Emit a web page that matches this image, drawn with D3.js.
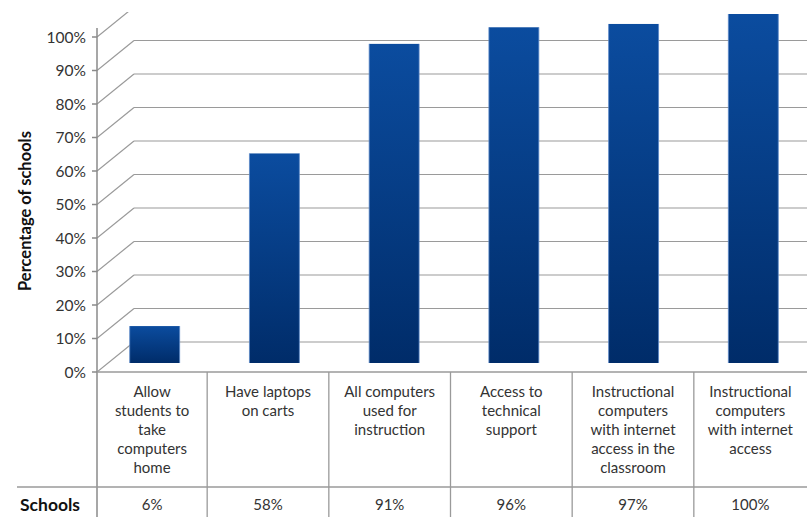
<!DOCTYPE html>
<html>
<head>
    <meta charset="utf-8">
    <style>
        body { margin: 0; background: #fff; }
        svg { display: block; font-family: Lato, 'Open Sans', sans-serif; }
        .tick-label { font-size: 15.5px; fill: #333; }
        .cat-label { font-size: 15px; fill: #333; }
        .val-label { font-size: 15px; fill: #333; }
    </style>
</head>
<body>
    <svg width="807" height="517"></svg>
<script src="https://d3js.org/d3.v7.min.js"></script>
<script>
    // chart data
    let categories = [
        "Allow students to take computers home",
        "Have laptops on carts",
        "All computers used for instruction",
        "Access to technical support",
        "Instructional computers with internet access in the classroom",
        "Instructional computers with internet access"
    ];
    let categoryLines = [
        ["Allow", "students to", "take", "computers", "home"],
        ["Have laptops", "on carts"],
        ["All computers", "used for", "instruction"],
        ["Access to", "technical", "support"],
        ["Instructional", "computers", "with internet", "access in the", "classroom"],
        ["Instructional", "computers", "with internet", "access"]
    ];
    let values = [6, 58, 91, 96, 97, 100];
    let valueLabels = ["6%", "58%", "91%", "96%", "97%", "100%"];
    let yTicks = [0, 10, 20, 30, 40, 50, 60, 70, 80, 90, 100];
    let rowLabel = "Schools";
    let yTitle = "Percentage of schools";

    let width = 807, height = 517;
    let axisX = 97;
    let depth = { dx: 37, dy: -30 };   // fake 3d wall offset
    let tableTop = 372, rowLine = 487;

    let svg = d3.select("svg");

    let yFront = d3.scaleLinear().domain([0, 100]).range([372, 37]);
    let yBar = d3.scaleLinear().domain([0, 100]).range([346, 14]);
    let barFloor = 363;

    let xBar = d3.scaleBand().domain(categories).range([95, 813]).paddingInner(0.583).paddingOuter(0.29);
    let xCol = d3.scaleBand().domain(categories).range([85.5, 815.5]);

    let defs = svg.append("defs");
    defs.append("clipPath").attr("id", "plot")
        .append("rect").attr("x", axisX).attr("y", 12).attr("width", width).attr("height", tableTop - 12);
    let grad = defs.append("linearGradient").attr("id", "barGrad")
        .attr("x1", 0).attr("y1", 0).attr("x2", 0).attr("y2", 1);
    grad.append("stop").attr("offset", "0%").attr("stop-color", "#0b4c9f");
    grad.append("stop").attr("offset", "100%").attr("stop-color", "#002c69");

    // grid: slanted wall lines + back horizontal lines
    let grid = svg.append("g").attr("clip-path", "url(#plot)")
        .attr("stroke", "#9a9a9a").attr("stroke-width", 1.2).attr("fill", "none");
    grid.selectAll(".slant").data(yTicks).join("line")
        .attr("x1", axisX).attr("y1", d => yFront(d))
        .attr("x2", axisX + depth.dx).attr("y2", d => yFront(d) + depth.dy);
    grid.selectAll(".back").data(yTicks).join("line")
        .attr("x1", axisX + depth.dx).attr("y1", d => yFront(d) + depth.dy)
        .attr("x2", width).attr("y2", d => yFront(d) + depth.dy);

    // bars
    let bars = svg.append("g");
    bars.selectAll("rect").data(values).join("rect")
        .attr("x", (d, i) => xBar(categories[i]))
        .attr("y", d => yBar(d))
        .attr("width", xBar.bandwidth())
        .attr("height", d => barFloor - yBar(d))
        .attr("fill", "url(#barGrad)");
    bars.selectAll(".edge").data(values.flatMap((d, i) => [[d, i, 0], [d, i, 1]])).join("line")
        .attr("x1", d => xBar(categories[d[1]]) + d[2] * xBar.bandwidth())
        .attr("x2", d => xBar(categories[d[1]]) + d[2] * xBar.bandwidth())
        .attr("y1", d => yBar(d[0]))
        .attr("y2", barFloor)
        .attr("stroke", "#5b88c8").attr("stroke-width", 0.8);

    // y axis
    let axis = svg.append("g").attr("stroke", "#8a8a8a").attr("stroke-width", 1.5);
    axis.append("line").attr("x1", axisX).attr("x2", axisX).attr("y1", 28).attr("y2", height);
    axis.selectAll(".tk").data(yTicks).join("line")
        .attr("x1", axisX - 5).attr("x2", axisX).attr("y1", d => yFront(d)).attr("y2", d => yFront(d));

    svg.append("g").selectAll("text").data(yTicks).join("text")
        .attr("class", "tick-label")
        .attr("x", 86).attr("y", d => yFront(d) + 5.5)
        .attr("text-anchor", "end")
        .text(d => d + "%");

    svg.append("text")
        .attr("transform", "translate(31,211) rotate(-90)")
        .attr("text-anchor", "middle")
        .style("font-size", "16.5px").style("font-weight", "bold").style("fill", "#111")
        .text(yTitle);

    // data table
    let table = svg.append("g").attr("stroke", "#9a9a9a").attr("stroke-width", 1.3);
    table.append("line").attr("x1", axisX).attr("x2", width).attr("y1", tableTop).attr("y2", tableTop);
    table.append("line").attr("x1", 17).attr("x2", width).attr("y1", rowLine).attr("y2", rowLine);
    table.selectAll(".col").data(categories.slice(1)).join("line")
        .attr("x1", d => xCol(d)).attr("x2", d => xCol(d))
        .attr("y1", tableTop).attr("y2", height);

    let colCenter = d => (Math.max(xCol(d), axisX) + Math.min(xCol(d) + xCol.bandwidth(), width)) / 2;

    let cats = svg.append("g").selectAll("text").data(categories).join("text")
        .attr("class", "cat-label")
        .attr("text-anchor", "middle")
        .attr("x", d => colCenter(d))
        .attr("y", 397);
    cats.selectAll("tspan").data((d, i) => categoryLines[i]).join("tspan")
        .attr("x", function () { return d3.select(this.parentNode).attr("x"); })
        .attr("dy", (d, j) => j === 0 ? 0 : 19)
        .text(d => d);

    svg.append("g").selectAll("text").data(valueLabels).join("text")
        .attr("class", "val-label")
        .attr("text-anchor", "middle")
        .attr("x", (d, i) => colCenter(categories[i]))
        .attr("y", 510)
        .text(d => d);

    svg.append("text")
        .attr("x", 20).attr("y", 511)
        .style("font-size", "17.5px").style("font-weight", "bold").style("fill", "#111")
        .text(rowLabel);
</script>
</body>
</html>
